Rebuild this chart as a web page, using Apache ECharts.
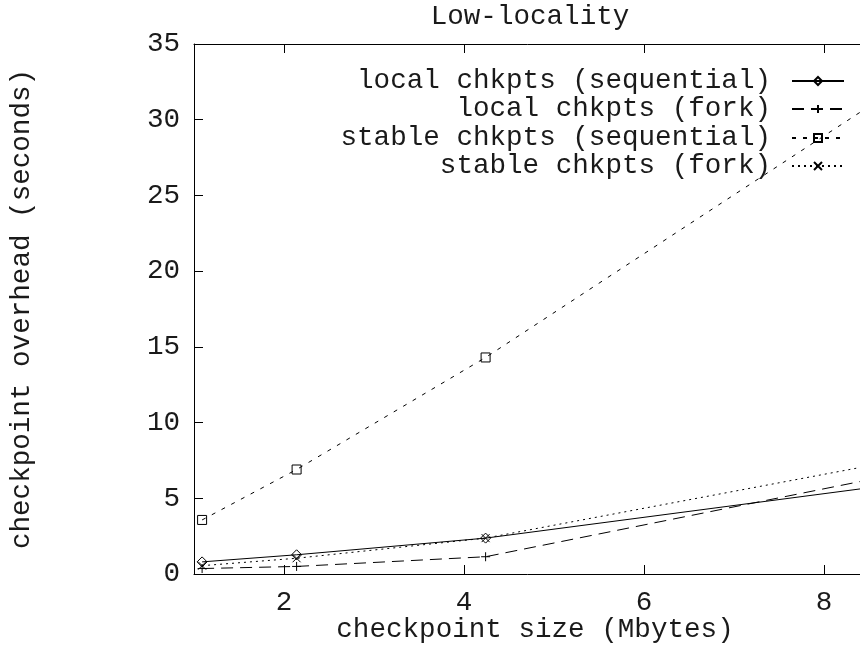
<!DOCTYPE html>
<html>
<head>
<meta charset="utf-8">
<script src="https://cdn.jsdelivr.net/npm/echarts@6/dist/echarts.min.js"></script>
<style>
  html, body { margin: 0; padding: 0; background: #fff; }
  #chart { width: 860px; height: 646px; }
</style>
</head>
<body>
<div id="chart"></div>
<script>
// ---- data ----
const titleText = 'Low-locality';
const xAxisName = 'checkpoint size (Mbytes)';
const yAxisName = 'checkpoint overhead (seconds)';
const seriesNames = [
  'local chkpts (sequential)',
  'local chkpts (fork)',
  'stable chkpts (sequential)',
  'stable chkpts (fork)'
];
const checkpointSizes = [1.09, 2.14, 4.24, 8.48];
const localSequential = [0.80, 1.27, 2.37, 5.68];
const localFork = [0.36, 0.50, 1.14, 6.20];
const stableSequential = [3.57, 6.90, 14.30, 30.80];
const stableFork = [0.55, 1.04, 2.37, 7.12];
const xTickValues = [2, 4, 6, 8];

// ---- styles ----
const FONT = 'Liberation Mono';
const FS = 27.6;
const TXT = '#1a1a1a';

function pairs(ys) { return checkpointSizes.map((x, i) => [x, ys[i]]); }

const markerDefs = [
  { symbol: 'path://M0,-1L1,0L0,1L-1,0Z', size: 10, dash: 'solid' },
  { symbol: 'path://M0,-1L0,1M-1,0L1,0', size: 9, dash: [12, 7] },
  { symbol: 'rect', size: 9, dash: [4, 7] },
  { symbol: 'path://M-1,-1L1,1M-1,1L1,-1', size: 8, dash: [2, 4] }
];
const seriesData = [localSequential, localFork, stableSequential, stableFork];

const series = seriesNames.map((name, i) => ({
  name: name,
  type: 'line',
  data: pairs(seriesData[i]),
  symbol: markerDefs[i].symbol,
  symbolSize: markerDefs[i].size,
  showAllSymbol: true,
  animation: false,
  clip: true,
  itemStyle: { color: 'rgba(0,0,0,0)', borderColor: '#000', borderWidth: 1 },
  lineStyle: { color: '#000', width: 1, type: markerDefs[i].dash },
  emphasis: { disabled: true }
}));

const legendRows = [81, 109, 138, 166];
const legends = seriesNames.map((name, i) => ({
  data: [name],
  right: 15,
  top: legendRows[i] - 14,
  padding: 0,
  align: 'right',
  orient: 'horizontal',
  itemWidth: 52,
  itemHeight: 10,
  selectedMode: false,
  textStyle: { fontFamily: FONT, fontSize: FS, color: TXT, padding: [0, 16, 0, 0] }
}));

const chart = echarts.init(document.getElementById('chart'), null, { renderer: 'canvas' });
chart.setOption({
  animation: false,
  backgroundColor: '#fff',
  title: {
    text: titleText,
    left: 525,
    textAlign: 'center',
    top: -2,
    textStyle: { fontFamily: FONT, fontSize: FS, fontWeight: 'normal', color: TXT }
  },
  legend: legends,
  grid: { left: 194, top: 44, width: 720, height: 530, outerBoundsMode: 'none', containLabel: false },
  xAxis: [
    {
      type: 'value', position: 'bottom', min: 1, max: 9,
      axisLine: { lineStyle: { color: '#000', width: 1 } },
      axisTick: { inside: true, length: 9, customValues: xTickValues, lineStyle: { color: '#000' } },
      axisLabel: { customValues: xTickValues, margin: 15, fontFamily: FONT, fontSize: FS, color: TXT },
      splitLine: { show: false }
    },
    {
      type: 'value', position: 'top', min: 1, max: 9,
      axisLine: { lineStyle: { color: '#000', width: 1 } },
      axisTick: { inside: true, length: 9, customValues: xTickValues, lineStyle: { color: '#000' } },
      axisLabel: { show: false },
      splitLine: { show: false }
    }
  ],
  yAxis: [
    {
      type: 'value', min: 0, max: 35, interval: 5,
      name: yAxisName, nameLocation: 'middle', nameGap: 158, nameRotate: 90,
      nameTextStyle: { fontFamily: FONT, fontSize: FS, color: TXT },
      axisLine: { show: true, lineStyle: { color: '#000', width: 1 } },
      axisTick: { show: true, inside: true, length: 9, lineStyle: { color: '#000' } },
      axisLabel: { margin: 14, fontFamily: FONT, fontSize: FS, color: TXT },
      splitLine: { show: false }
    }
  ],
  graphic: [
    {
      type: 'text', x: 535, y: 630,
      style: { text: xAxisName, fontFamily: FONT, fontSize: FS, fill: TXT, align: 'center', verticalAlign: 'middle' }
    }
  ],
  series: series
});
</script>
</body>
</html>
